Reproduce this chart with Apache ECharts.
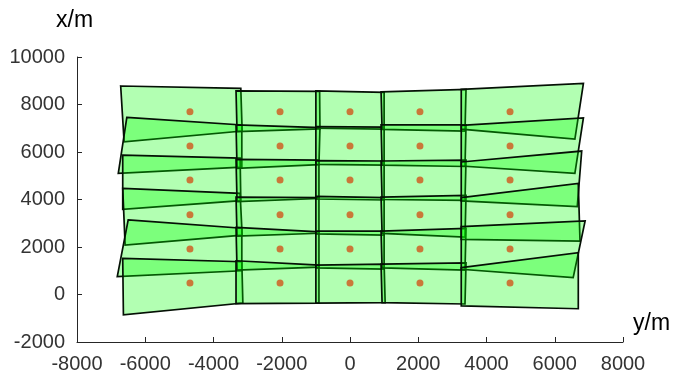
<!DOCTYPE html>
<html><head><meta charset="utf-8">
<script src="https://cdn.jsdelivr.net/npm/echarts@6/dist/echarts.min.js"></script>
<style>html,body{margin:0;padding:0;background:#fff}#c{width:693px;height:385px}</style>
</head><body><div id="c"></div>
<script>
// Axis ticks
const xTickMin = -8000, xTickMax = 8000, xTickStep = 2000;
const yTickMin = -2000, yTickMax = 10000, yTickStep = 2000;

// Centres of the cells (orange dots)
const centerX = [-4690, -2050, 0, 2050, 4690];
const centerY = [7700, 6250, 4820, 3360, 1920, 480];

// Cell quadrilaterals: corner x (y/m) and corner y (x/m), order TL, TR, BR, BL
const cellX = [
  // column 1
  [-6720, -3200, -3160, -6620],
  [-6540, -3170, -3170, -6790],
  [-6660, -3220, -3200, -6660],
  [-6660, -3220, -3160, -6590],
  [-6500, -3170, -3170, -6820],
  [-6660, -3170, -3140, -6640],
  // column 2
  [-3340, -890, -880, -3310],
  [-3340, -880, -910, -3310],
  [-3340, -910, -910, -3310],
  [-3340, -910, -910, -3310],
  [-3340, -910, -910, -3310],
  [-3340, -910, -910, -3340],
  // column 3
  [-1000, 1000, 1000, -1000],
  [-1000, 1000, 1000, -1000],
  [-1000, 1000, 1000, -1000],
  [-1000, 1000, 1000, -1000],
  [-1000, 1000, 1000, -1000],
  [-1000, 1000, 1030, -1000],
  // column 4
  [910, 3400, 3370, 940],
  [910, 3400, 3370, 940],
  [910, 3400, 3370, 940],
  [910, 3400, 3370, 940],
  [910, 3400, 3370, 940],
  [910, 3400, 3370, 940],
  // column 5
  [3260, 6840, 6590, 3260],
  [3260, 6840, 6590, 3260],
  [3260, 6790, 6660, 3260],
  [3260, 6690, 6740, 3260],
  [3260, 6890, 6540, 3260],
  [3260, 6690, 6690, 3260]
];
const cellY = [
  // column 1
  [8780, 8680, 6880, 6430],
  [7460, 7140, 5360, 5100],
  [5870, 5740, 3950, 3590],
  [4470, 4260, 2500, 2080],
  [3140, 2790, 1000, 750],
  [1520, 1380, -360, -860],
  // column 2
  [8570, 8550, 6970, 6860],
  [7140, 7030, 5470, 5310],
  [5690, 5660, 4040, 3910],
  [4100, 4080, 2580, 2460],
  [2830, 2640, 1150, 1030],
  [1420, 1240, -360, -380],
  // column 3
  [8570, 8510, 6960, 7000],
  [7070, 7050, 5450, 5480],
  [5640, 5620, 3980, 4020],
  [4130, 4080, 2500, 2550],
  [2670, 2670, 1070, 1120],
  [1240, 1280, -340, -360],
  // column 4
  [8530, 8640, 6880, 6950],
  [7140, 7140, 5390, 5450],
  [5620, 5660, 3960, 4000],
  [4100, 4170, 2420, 2570],
  [2670, 2780, 1030, 1120],
  [1280, 1330, -400, -340],
  // column 5
  [8640, 8890, 6540, 6960],
  [7120, 7440, 5100, 5410],
  [5580, 6040, 3700, 3940],
  [4080, 4680, 2250, 2320],
  [2860, 3100, 710, 1060],
  [1130, 1760, -600, -480]
];

const dots = [];
centerX.forEach(x => centerY.forEach(y => dots.push([x, y])));
const cellData = cellX.map((q, i) => [q.reduce((a, b) => a + b) / 4, cellY[i].reduce((a, b) => a + b) / 4]);

const FONT = 'Liberation Sans, Arial, sans-serif';
const chart = echarts.init(document.getElementById('c'), null, {renderer: 'canvas'});
const axisCommon = {
  type: 'value',
  axisLine: {show: true, onZero: false, lineStyle: {color: '#262626', width: 1}},
  axisTick: {show: true, inside: true, length: 5, lineStyle: {color: '#262626'}},
  axisLabel: {color: '#333333', fontSize: 20, fontFamily: FONT, margin: 12, formatter: v => String(v)},
  splitLine: {show: false}
};
chart.setOption({
  animation: false,
  backgroundColor: '#fff',
  grid: {left: 77, right: 70, top: 57, bottom: 43, containLabel: false},
  xAxis: Object.assign({}, axisCommon, {min: xTickMin, max: xTickMax, interval: xTickStep}),
  yAxis: Object.assign({}, axisCommon, {min: yTickMin, max: yTickMax, interval: yTickStep}),
  graphic: [
    {type: 'text', left: 56, top: 9, style: {text: 'x/m', font: '23px ' + FONT, fill: '#000'}},
    {type: 'text', left: 633, top: 312, style: {text: 'y/m', font: '23px ' + FONT, fill: '#000'}}
  ],
  series: [
    {
      type: 'custom',
      data: cellData,
      renderItem: function (params, api) {
        const i = params.dataIndex;
        const pts = cellX[i].map((x, k) => api.coord([x, cellY[i][k]]));
        return {
          type: 'polygon',
          shape: {points: pts},
          style: {fill: 'rgba(0,255,0,0.3)', stroke: '#051005', lineWidth: 1.7}
        };
      },
      z: 2
    },
    {
      type: 'scatter',
      data: dots,
      symbol: 'circle',
      symbolSize: 7,
      itemStyle: {color: '#D0561A'},
      z: 5
    }
  ]
});
</script>
</body></html>
